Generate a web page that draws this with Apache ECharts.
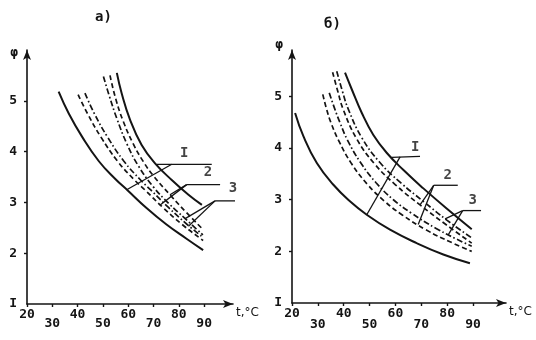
<!DOCTYPE html>
<html><head><meta charset="utf-8">
<script src="https://cdn.jsdelivr.net/npm/echarts@6/dist/echarts.min.js"></script>
<style>html,body{margin:0;padding:0;background:#fff}#c{width:536px;height:340px}</style>
</head><body><div id="c"></div>
<script>
// ---- tick labels ----
const xTicks = [20, 30, 40, 50, 60, 70, 80, 90];
const yTicks = [1, 2, 3, 4, 5];
const yTickText = ['I', '2', '3', '4', '5'];
const xName = 't,°C';
const yName = 'φ';
const panelTitles = ['а)', 'б)'];

// ---- panel а) curves [t, φ] ----
const aSolidLow = [[32.5,5.18],[36.5,4.75],[41.8,4.29],[48.4,3.81],[55.1,3.45],[59.7,3.24],[67,2.9],[75,2.57],[82.9,2.29],[89.6,2.06]];
const aDash1 = [[40.2,5.12],[44,4.74],[49.3,4.28],[55.8,3.81],[62.3,3.45],[66.7,3.24],[73.7,2.9],[81.2,2.57],[88.5,2.29],[89.6,2.25]];
const aDashDot1 = [[42.9,5.15],[46.7,4.74],[51.9,4.28],[58.3,3.81],[64.7,3.45],[69,3.24],[75.9,2.9],[83.2,2.57],[89.6,2.31]];
const aDashDot2 = [[50.2,5.48],[52.5,5.1],[55.5,4.65],[59.5,4.15],[64,3.72],[70,3.3],[76,2.98],[82.5,2.68],[89.5,2.36]];
const aDash2 = [[52.8,5.5],[55,5.05],[58,4.6],[62,4.15],[66,3.8],[70,3.52],[76.5,3.15],[83,2.8],[89.5,2.47]];
const aSolidHigh = [[55.5,5.55],[57.4,5.15],[60.7,4.63],[65.3,4.13],[70.6,3.77],[77.2,3.44],[83.8,3.15],[89.1,2.95]];

// ---- panel б) curves [t, φ] ----
const bSolidLow = [[21.2,4.68],[24.4,4.23],[29.6,3.71],[36,3.29],[42.4,2.97],[48.9,2.71],[57.9,2.42],[68.2,2.16],[78.5,1.94],[88.8,1.77]];
const bDash1 = [[31.9,5.04],[33.4,4.75],[35,4.5],[38,4.15],[43,3.7],[49.3,3.29],[55.8,2.97],[62.5,2.71],[71.7,2.42],[82.2,2.16],[89.5,2.0]];
const bDashDot1 = [[34.4,5.07],[36.6,4.75],[38.5,4.5],[41.5,4.15],[46.5,3.72],[52.5,3.33],[59.2,3.0],[66.2,2.74],[75.9,2.44],[86.8,2.16],[89.5,2.1]];
const bDash2 = [[35.7,5.47],[37.7,5.1],[39.8,4.75],[45,4.18],[52,3.69],[60,3.29],[69.5,2.9],[79.5,2.52],[89.5,2.16]];
const bDashDot2 = [[37.3,5.49],[39.5,5.1],[41.8,4.75],[47,4.2],[54,3.72],[62,3.33],[71,2.96],[80,2.6],[89.5,2.26]];
const bSolidHigh = [[40.5,5.46],[43.1,5.14],[47,4.68],[51.4,4.26],[56.6,3.91],[63,3.58],[70.8,3.22],[79.8,2.83],[89.5,2.43]];

// ---- leader lines and their labels [t, φ] ----
const aLeaders = [
  [[71.3,3.75],[93,3.75]], [[77.2,3.75],[59.4,3.25]],
  [[83.1,3.35],[96.3,3.35]], [[83.1,3.35],[76.5,3.15]], [[83.1,3.35],[72.6,2.95]],
  [[94.3,3.03],[105.4,3.03]], [[94.3,3.03],[82.5,2.68]], [[94.3,3.03],[83.8,2.53]]
];
const aLeaderText = [['I',82.1,3.97],['2',91.5,3.6],['3',101.4,3.27]];
const bLeaders = [
  [[58.5,3.82],[69.5,3.84]], [[61.8,3.83],[48.9,2.71]],
  [[74.8,3.28],[84.1,3.28]], [[74.8,3.28],[69.5,2.9]], [[74.8,3.28],[68.8,2.52]],
  [[86,2.79],[93.1,2.79]], [[86,2.79],[79.2,2.63]], [[86,2.79],[80.4,2.32]]
];
const bLeaderText = [['I',67.6,4.02],['2',80.2,3.47],['3',89.9,2.99]];

const INK = '#141414';
const FONT = 'DejaVu Sans Mono';
const styles = {
  solid: {type: 'solid', width: 2},
  dash: {type: [5, 3], width: 1.7},
  dashdot: {type: [6, 2.5, 1.6, 2.5], width: 1.7}
};
const panels = [
  {curves: [[aSolidLow,'solid'],[aDash1,'dash'],[aDashDot1,'dashdot'],[aDashDot2,'dashdot'],[aDash2,'dash'],[aSolidHigh,'solid']],
   leaders: aLeaders, texts: aLeaderText, grid: {left: 27, width: 206, top: 50, height: 254}, xMax: 101.4, yMax: 6.0, loPad: 9, yNameGap: 4},
  {curves: [[bSolidLow,'solid'],[bDash1,'dash'],[bDashDot1,'dashdot'],[bDash2,'dash'],[bDashDot2,'dashdot'],[bSolidHigh,'solid']],
   leaders: bLeaders, texts: bLeaderText, grid: {left: 292, width: 214, top: 50, height: 253}, xMax: 102.75, yMax: 5.9, loPad: 11, yNameGap: 12}
];

const txt = (size) => ({color: INK, fontFamily: FONT, fontSize: size, fontWeight: 'bold'});
const grids = [], xAxes = [], yAxes = [], series = [];
panels.forEach((p, i) => {
  grids.push(Object.assign({outerBoundsMode: 'none', containLabel: false}, p.grid));
  xAxes.push({
    gridIndex: i, type: 'value', min: 20, max: p.xMax, interval: 10,
    axisLine: {show: true, onZero: false, symbol: ['none', 'arrow'], symbolSize: [6, 10], lineStyle: {color: INK, width: 1.6}},
    axisTick: {show: true, customValues: xTicks, length: 3, lineStyle: {color: INK, width: 1.4}},
    axisLabel: Object.assign(txt(13), {
      customValues: xTicks, margin: 4,
      formatter: v => (((v - 20) / 10) % 2 === 1 ? '{lo|' + v + '}' : '{hi|' + v + '}'),
      rich: {hi: txt(13), lo: Object.assign(txt(13), {padding: [p.loPad, 0, 0, 0]})}
    }),
    splitLine: {show: false},
    name: xName, nameLocation: 'end', nameGap: 3,
    nameTextStyle: {color: INK, fontFamily: 'DejaVu Sans', fontSize: 12, verticalAlign: 'top', padding: [3, 0, 0, 0]}
  });
  yAxes.push({
    gridIndex: i, type: 'value', min: 1, max: p.yMax, interval: 1,
    axisLine: {show: true, onZero: false, symbol: ['none', 'arrow'], symbolSize: [6, 10], lineStyle: {color: INK, width: 1.6}},
    axisTick: {show: true, customValues: [2, 3, 4, 5], length: 3, lineStyle: {color: INK, width: 1.4}},
    axisLabel: Object.assign(txt(13), {customValues: yTicks, margin: 10,
      formatter: v => yTickText[yTicks.indexOf(v)]}),
    splitLine: {show: false},
    name: yName, nameLocation: 'end', nameGap: p.yNameGap,
    nameTextStyle: Object.assign(txt(13), {align: 'right', verticalAlign: 'top', padding: [0, 9, 0, 0]})
  });
  p.curves.forEach(([data, kind]) => {
    series.push({type: 'line', xAxisIndex: i, yAxisIndex: i, data: data, smooth: 0.45, symbol: 'none',
      lineStyle: Object.assign({color: INK}, styles[kind]), silent: true, animation: false});
  });
  p.leaders.forEach(seg => {
    series.push({type: 'line', xAxisIndex: i, yAxisIndex: i, data: seg, symbol: 'none', clip: false,
      lineStyle: {color: INK, width: 1.3, type: 'solid'}, silent: true, animation: false});
  });
  series.push({type: 'scatter', xAxisIndex: i, yAxisIndex: i, clip: false, symbolSize: 2,
    itemStyle: {color: 'rgba(0,0,0,0)'}, animation: false, silent: true,
    data: p.texts.map(t => ({name: t[0], value: [t[1], t[2]]})),
    label: Object.assign(txt(14), {show: true, position: [1, 1], align: 'center', verticalAlign: 'middle',
      textBorderWidth: 0, formatter: d => d.name})});
});

const chart = echarts.init(document.getElementById('c'), null, {renderer: 'canvas'});
chart.setOption({
  backgroundColor: '#fff',
  animation: false,
  grid: grids, xAxis: xAxes, yAxis: yAxes, series: series,
  graphic: [
    {type: 'text', left: 95, top: 10, style: {text: panelTitles[0], fill: INK, font: 'bold 14px "DejaVu Sans Mono"'}},
    {type: 'text', left: 324, top: 17, style: {text: panelTitles[1], fill: INK, font: 'bold 14px "DejaVu Sans Mono"'}}
  ]
});
</script></body></html>
